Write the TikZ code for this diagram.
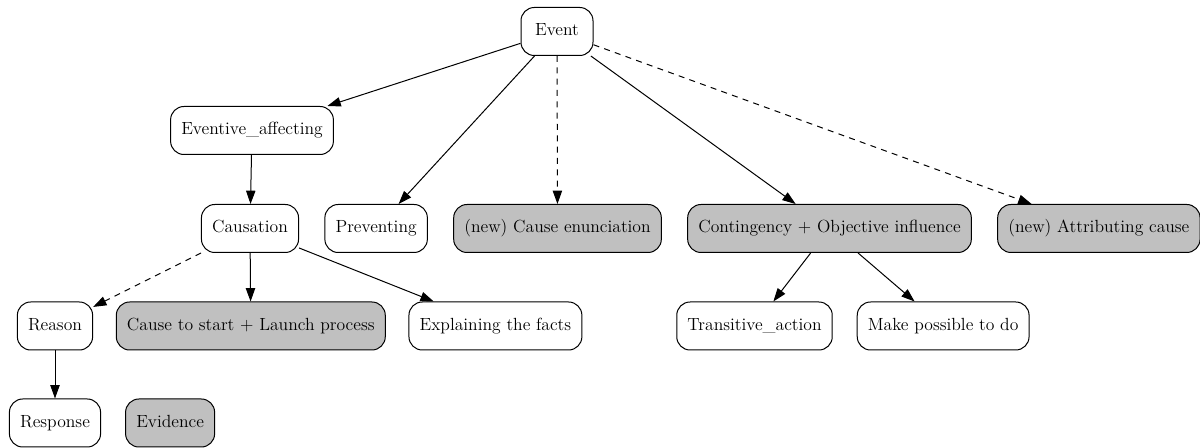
\documentclass[tikz,border=0pt]{standalone}
\usetikzlibrary{positioning,arrows.meta}
\definecolor{boxgray}{HTML}{C0C0C0}
\tikzstyle{FrameBox}=[rectangle, rounded corners=10pt, draw=black, fill=white, line width=0.75pt, minimum width=54pt, minimum height=36pt, inner xsep=8pt, text height=9.5pt, text depth=3pt, font=\fontsize{13.2pt}{16pt}\selectfont]
\tikzstyle{NewBox}=[FrameBox, fill=boxgray]
\tikzstyle{Link}=[-{Triangle[length=10pt, width=7pt]}, line width=0.75pt]
\tikzstyle{DashLink}=[Link, dash pattern=on 4.5pt off 4pt]

\begin{document}
\begin{tikzpicture}[x=0.75pt, y=-0.75pt]
			\useasboundingbox (0,0) rectangle (1200,448);

			%Nodes
			\node[FrameBox]	(event)			at (557,31.5)	{Event};
			\node[FrameBox]	(eventive_affecting)	at (252,130.5)	{Eventive\_affecting};

			\node[FrameBox]	(causation)		at (250,228.5)	{Causation};
			\node[FrameBox]	(preventing)		[right=19pt of causation]	{Preventing};
			\node[NewBox]	(cause_enunciation)	[right=19pt of preventing]	{(new) Cause enunciation};
			\node[NewBox]	(contingency)		[right=19pt of cause_enunciation]	{Contingency + Objective influence};
			\node[NewBox]	(attributing_cause)	[right=19pt of contingency]	{(new) Attributing cause};

			\node[FrameBox]	(reason)			at (55,326)		{Reason};
			\node[NewBox]	(cause_start)		[right=17pt of reason]	{Cause to start + Launch process};
			\node[FrameBox]	(explaining)		[right=17pt of cause_start]	{Explaining the facts};

			\node[FrameBox]	(transitive_action)	at (754.5,326)	{Transitive\_action};
			\node[FrameBox]	(make_possible)		[right=18pt of transitive_action]	{Make possible to do};

			\node[FrameBox]	(response)		[below=36pt of reason]	{Response};
			\node[NewBox]	(evidence)		[right=18pt of response]	{Evidence};

			%Lines
			\draw[Link] (event) -- (eventive_affecting);
			\draw[Link] (event) -- (preventing);
			\draw[DashLink] (event) -- (cause_enunciation);
			\draw[Link] (event) -- (contingency);
			\draw[DashLink] (event) -- (attributing_cause);
			\draw[Link] (eventive_affecting) -- (causation);
			\draw[DashLink] (causation) -- (reason);
			\draw[Link] (causation) -- (cause_start);
			\draw[Link] (causation) -- (explaining);
			\draw[Link] (reason) -- (response);
			\draw[Link] (contingency) -- (transitive_action);
			\draw[Link] (contingency) -- (make_possible);

		\end{tikzpicture}
\end{document}
